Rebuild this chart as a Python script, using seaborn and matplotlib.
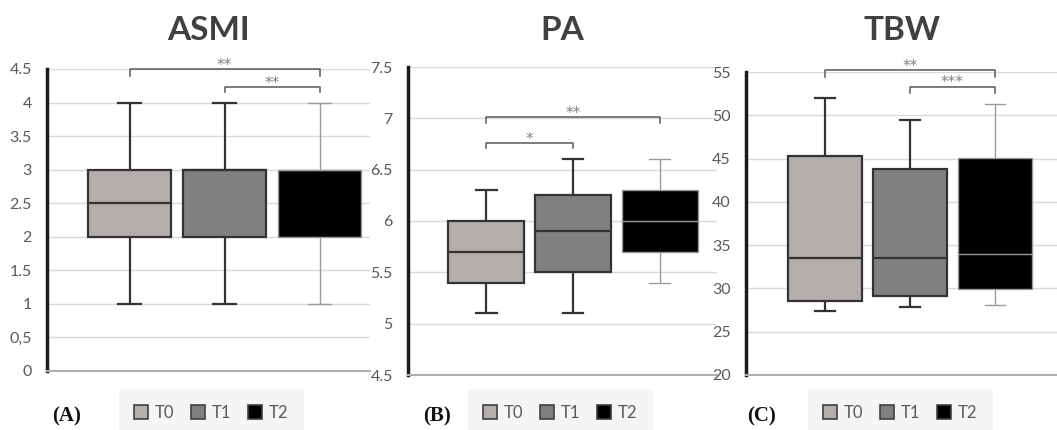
import numpy as np
import pandas as pd
import matplotlib
matplotlib.use("Agg")
import matplotlib.pyplot as plt
from matplotlib.patches import Patch
import seaborn as sns

# time points
times = ["T0", "T1", "T2"]

# five-number summaries: min, q1, median, q3, max
asmi_t0 = [1.0, 2.0, 2.5, 3.0, 4.0]
asmi_t1 = [1.0, 2.0, 3.0, 3.0, 4.0]
asmi_t2 = [1.0, 2.0, 3.0, 3.0, 4.0]

pa_t0 = [5.1, 5.4, 5.7, 6.0, 6.3]
pa_t1 = [5.1, 5.5, 5.9, 6.25, 6.6]
pa_t2 = [5.4, 5.7, 6.0, 6.3, 6.6]

tbw_t0 = [27.4, 28.5, 33.5, 45.3, 52.0]
tbw_t1 = [27.9, 29.1, 33.5, 43.8, 49.4]
tbw_t2 = [28.1, 29.9, 34.0, 45.1, 51.3]

# y ticks
asmi_ticks = [0, 0.5, 1, 1.5, 2, 2.5, 3, 3.5, 4, 4.5]
asmi_ticklabels = ["0", "0,5", "1", "1.5", "2", "2.5", "3", "3.5", "4", "4.5"]
pa_ticks = [4.5, 5, 5.5, 6, 6.5, 7, 7.5]
pa_ticklabels = ["4.5", "5", "5.5", "6", "6.5", "7", "7.5"]
tbw_ticks = [20, 25, 30, 35, 40, 45, 50, 55]
tbw_ticklabels = ["20", "25", "30", "35", "40", "45", "50", "55"]

# significance brackets: (from, to, level, tick drop, stars)
asmi_sig = [("T0", "T2", 4.50, 0.10, "**"), ("T1", "T2", 4.23, 0.08, "**")]
pa_sig = [("T0", "T2", 7.01, 0.06, "**"), ("T0", "T1", 6.76, 0.05, "*")]
tbw_sig = [("T0", "T2", 55.2, 0.8, "**"), ("T1", "T2", 53.3, 0.7, "***")]

fills = ["#b3aeab", "#808080", "#000000"]
edges = ["#333333", "#333333", "#9a9a9a"]

plt.rcParams["font.family"] = ["Lato", "DejaVu Sans"]

fig = plt.figure(figsize=(10.57, 4.30), dpi=100)

# axes rectangles in pixels (left, right, top, bottom)
rects = [(47, 370, 69, 371), (408, 717, 67, 375), (746, 1057, 72, 375)]


def make_df(groups):
    rows = []
    for t, vals in zip(times, groups):
        for v in vals:
            rows.append({"time": t, "value": v})
    return pd.DataFrame(rows)


def draw_panel(rect, groups, ticks, ticklabels, sig, title, tag, xlims, legx, tagx):
    l, r, t, b = rect
    W, H = 1057, 430
    ax = fig.add_axes([l / W, 1 - b / H, (r - l) / W, (b - t) / H])
    df = make_df(groups)
    for tm, fc, ec in zip(times, fills, edges):
        sub = df[df["time"] == tm]
        lw = 1.0 if tm == "T2" else 1.6
        sns.boxplot(data=sub, x="time", y="value", order=times, color=fc,
                    saturation=1, linecolor=ec, linewidth=lw, width=0.88,
                    whis=(0, 100), capwidths=0.24, ax=ax)
    ax.set_xlim(*xlims)
    ax.set_ylim(ticks[0], ticks[-1])
    ax.set_yticks(ticks)
    ax.set_yticklabels(ticklabels)
    ax.set_xticks([])
    ax.set_xlabel("")
    ax.set_ylabel("")
    ax.set_axisbelow(True)
    ax.yaxis.grid(True, color="#d9d9d9", lw=1)
    ax.tick_params(axis="y", length=0, pad=11, labelsize=11.5, labelcolor="#595959")
    for s in ["top", "right"]:
        ax.spines[s].set_visible(False)
    ax.spines["left"].set_color("#1a1a1a")
    ax.spines["left"].set_linewidth(2.5)
    ax.spines["bottom"].set_color("#b0b0b0")
    ax.spines["bottom"].set_linewidth(1.5)

    span = ticks[-1] - ticks[0]
    for a, bb, y, h, stars in sig:
        x1, x2 = times.index(a), times.index(bb)
        ax.plot([x1, x1, x2, x2], [y - h, y, y, y - h], color="#595959",
                lw=1.1, clip_on=False)
        ax.text((x1 + x2) / 2, y - span * 0.012, stars, ha="center", va="bottom",
                fontsize=11, family="DejaVu Sans", color="#7f7f7f", clip_on=False)

    fig.text((l + r) / 2 / W, 1 - 30 / H, title, ha="center", va="center",
             fontsize=24, fontweight="bold", color="#404040")
    fig.text(tagx / W, 1 - 416 / H, tag, ha="center", va="center",
             fontsize=15, fontweight="bold", family="Liberation Serif", color="#111111")
    handles = [Patch(facecolor=c, edgecolor="#404040", lw=1.2) for c in fills]
    leg = fig.legend(handles, times, loc="center", bbox_to_anchor=(legx / W, 1 - 413 / H),
                     ncol=3, frameon=True, fancybox=False, handlelength=0.85,
                     handleheight=0.9, handletextpad=0.4, columnspacing=1.0,
                     borderpad=0.9, fontsize=12, labelcolor="#595959")
    leg.get_frame().set_facecolor("#f3f3f3")
    leg.get_frame().set_edgecolor("#f3f3f3")
    return ax


draw_panel(rects[0], [asmi_t0, asmi_t1, asmi_t2], asmi_ticks, asmi_ticklabels,
           asmi_sig, "ASMI", "(A)", (-0.87, 2.53), 211, 67)
draw_panel(rects[1], [pa_t0, pa_t1, pa_t2], pa_ticks, pa_ticklabels,
           pa_sig, "PA", "(B)", (-0.9, 2.66), 560, 437)
draw_panel(rects[2], [tbw_t0, tbw_t1, tbw_t2], tbw_ticks, tbw_ticklabels,
           tbw_sig, "TBW", "(C)", (-0.93, 2.73), 900, 761)

fig.savefig("out.png", dpi=100, facecolor="white")
